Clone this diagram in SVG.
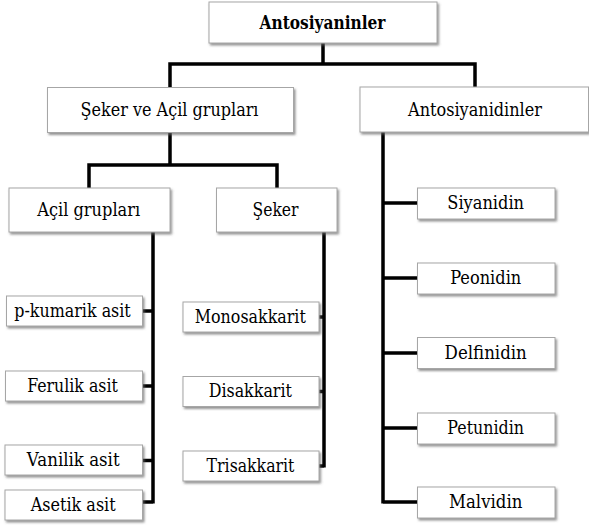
<svg xmlns="http://www.w3.org/2000/svg" width="589" height="525" viewBox="0 0 589 525">
<defs>
<filter id="sh" x="-10%" y="-20%" width="130%" height="160%">
<feDropShadow dx="1.5" dy="2" stdDeviation="1" flood-color="#666" flood-opacity="0.7"/>
</filter>
<style>
.box{fill:#fff;stroke:#a6a6a6;stroke-width:1;filter:url(#sh)}
text{font-family:'DejaVu Serif',serif;font-size:18px;fill:#000;text-anchor:middle}
.b{font-weight:bold}
.c{fill:none;stroke:#000;stroke-width:3.5;stroke-linejoin:miter;stroke-linecap:butt}
</style>
</defs>
<rect width="589" height="525" fill="#fff"/>
<g id="connectors">
<path class="c" d="M323,43V64M170,87V64H475V87"/>
<path class="c" d="M170,132V165M89,188V165H277V188"/>
<path class="c" d="M383,132V503.5M383,203H417M383,278H417M383,353H417M383,428H417M383,502H417"/>
<path class="c" d="M153,232V503.5M143,311H153M143,386H153M143,460.5H153M143,502H153"/>
<path class="c" d="M324,232V467.5M319,317H324M319,391.5H324M319,466H324"/>
</g>
<g id="n-antosiyaninler"><rect class="box" x="209" y="2" width="228" height="41"/><text class="b" x="322.5" y="29" textLength="126" lengthAdjust="spacingAndGlyphs">Antosiyaninler</text></g>
<g id="n-seker-acil"><rect class="box" x="47.5" y="87.5" width="246" height="45"/><text x="169.5" y="116" textLength="178" lengthAdjust="spacingAndGlyphs">Şeker ve Açil grupları</text></g>
<g id="n-antosiyanidinler"><rect class="box" x="360" y="87" width="228.5" height="45"/><text x="475" y="116" textLength="134" lengthAdjust="spacingAndGlyphs">Antosiyanidinler</text></g>
<g id="n-acil"><rect class="box" x="9" y="188" width="161" height="44"/><text x="88.7" y="216" textLength="103" lengthAdjust="spacingAndGlyphs">Açil grupları</text></g>
<g id="n-seker"><rect class="box" x="216.5" y="188" width="120.5" height="44"/><text x="275.5" y="216" textLength="46" lengthAdjust="spacingAndGlyphs">Şeker</text></g>
<g id="n-pkumarik"><rect class="box" x="6.5" y="296" width="136" height="30"/><text x="72.5" y="316.5" textLength="116.5" lengthAdjust="spacingAndGlyphs">p-kumarik asit</text></g>
<g id="n-ferulik"><rect class="box" x="5.5" y="371" width="137" height="30"/><text x="72.5" y="391.5" textLength="90.7" lengthAdjust="spacingAndGlyphs">Ferulik asit</text></g>
<g id="n-vanilik"><rect class="box" x="5" y="445" width="137.5" height="30"/><text x="73.2" y="466" textLength="92.8" lengthAdjust="spacingAndGlyphs">Vanilik asit</text></g>
<g id="n-asetik"><rect class="box" x="5" y="490" width="137.5" height="30"/><text x="73.2" y="511" textLength="85" lengthAdjust="spacingAndGlyphs">Asetik asit</text></g>
<g id="n-mono"><rect class="box" x="183" y="302" width="136" height="30"/><text x="250.3" y="322.5" textLength="111" lengthAdjust="spacingAndGlyphs">Monosakkarit</text></g>
<g id="n-di"><rect class="box" x="183" y="376.5" width="136" height="30"/><text x="250.3" y="397" textLength="83.3" lengthAdjust="spacingAndGlyphs">Disakkarit</text></g>
<g id="n-tri"><rect class="box" x="183" y="451" width="136" height="30"/><text x="250.5" y="471.5" textLength="87.8" lengthAdjust="spacingAndGlyphs">Trisakkarit</text></g>
<g id="n-siyanidin"><rect class="box" x="417.5" y="188" width="137.5" height="31"/><text x="485.7" y="209" textLength="76.7" lengthAdjust="spacingAndGlyphs">Siyanidin</text></g>
<g id="n-peonidin"><rect class="box" x="417.5" y="263" width="137.5" height="31"/><text x="485.7" y="284" textLength="71.1" lengthAdjust="spacingAndGlyphs">Peonidin</text></g>
<g id="n-delfinidin"><rect class="box" x="417.5" y="337.5" width="137.5" height="31"/><text x="485.7" y="358.5" textLength="82.2" lengthAdjust="spacingAndGlyphs">Delfinidin</text></g>
<g id="n-petunidin"><rect class="box" x="417.5" y="413" width="137.5" height="31"/><text x="485.7" y="434" textLength="76.7" lengthAdjust="spacingAndGlyphs">Petunidin</text></g>
<g id="n-malvidin"><rect class="box" x="417.5" y="487" width="137.5" height="31"/><text x="485.7" y="508" textLength="73.3" lengthAdjust="spacingAndGlyphs">Malvidin</text></g>
</svg>
